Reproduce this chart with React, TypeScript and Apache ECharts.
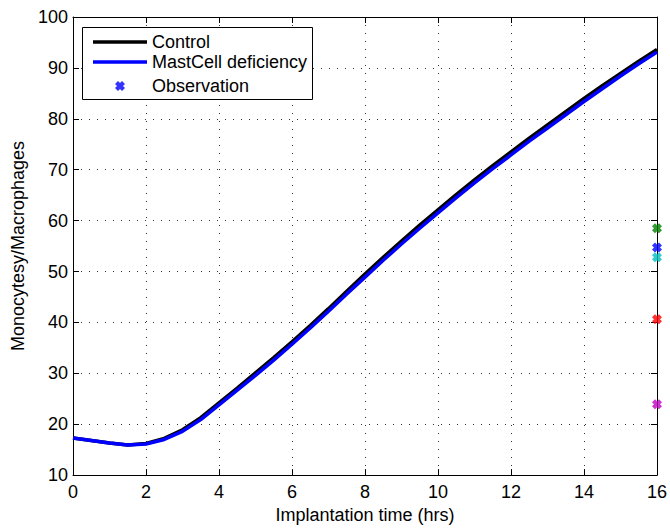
import React, { useEffect, useRef } from "react";
import * as echarts from "echarts";

const timeHrs = [0, 0.5, 1, 1.5, 2, 2.5, 3, 3.5, 4, 4.5, 5, 5.5, 6, 6.5, 7, 7.5, 8, 8.5, 9, 9.5, 10, 10.5, 11, 11.5, 12, 12.5, 13, 13.5, 14, 14.5, 15, 15.5, 16];
const controlValues = [17.3, 16.8, 16.3, 15.9, 16.2, 17.2, 18.9, 21.3, 24.2, 27.1, 30.1, 33.1, 36.2, 39.4, 42.7, 46.1, 49.5, 52.8, 56.0, 59.1, 62.1, 65.1, 68.0, 70.8, 73.5, 76.2, 78.8, 81.4, 84.0, 86.5, 88.9, 91.3, 93.6];
const mastCellValues = [17.3, 16.8, 16.3, 15.9, 16.1, 17.0, 18.6, 20.9, 23.8, 26.7, 29.6, 32.6, 35.7, 38.9, 42.2, 45.6, 48.9, 52.2, 55.4, 58.5, 61.5, 64.5, 67.4, 70.2, 72.9, 75.6, 78.2, 80.8, 83.4, 85.9, 88.4, 90.8, 93.1];
const observationTime = [16, 16, 16, 16, 16];
const observationValues = [58.5, 54.7, 52.8, 40.6, 23.9];
const observationColors = ["#008000", "#0000ff", "#00bfbf", "#ff0000", "#bf00bf"];
const seriesNames = ["Control", "MastCell deficiency", "Observation"];

const X_PATH = "path://M0,3 L3,0 L5,2 L7,0 L10,3 L8,5 L10,7 L7,10 L5,8 L3,10 L0,7 L2,5 Z";
const FONT = "Liberation Sans, Arial, sans-serif";

export default function App() {
  const ref = useRef<HTMLDivElement>(null);
  useEffect(() => {
    if (!ref.current) return;
    const chart = echarts.init(ref.current, undefined, { renderer: "svg" });
    const gridStyle = { color: "#333", width: 1, type: [1, 7] as any };
    const legendText = { fontSize: 18, fontFamily: FONT, color: "#000", lineHeight: 20 };
    const legendBase = {
      orient: "vertical",
      padding: 0,
      selectedMode: false,
      textStyle: legendText,
    };
    chart.setOption({
      animation: false,
      backgroundColor: "#fff",
      textStyle: { fontFamily: FONT },
      grid: { left: 73, right: 10, top: 17, bottom: 49 },
      xAxis: [
        {
          type: "value",
          min: 0,
          max: 16,
          interval: 2,
          name: "Implantation time (hrs)",
          nameLocation: "middle",
          nameGap: 30,
          nameTextStyle: { fontSize: 18, fontFamily: FONT, color: "#000" },
          axisLine: { lineStyle: { color: "#000", width: 1 } },
          axisTick: { inside: true, length: 6, lineStyle: { color: "#000" } },
          axisLabel: { fontSize: 18, fontFamily: FONT, color: "#000", margin: 8 },
          splitLine: { show: true, lineStyle: gridStyle },
        },
        {
          type: "value",
          position: "top",
          min: 0,
          max: 16,
          interval: 2,
          axisLine: { onZero: false, lineStyle: { color: "#000", width: 1 } },
          axisTick: { inside: true, length: 6, lineStyle: { color: "#000" } },
          axisLabel: { show: false },
          splitLine: { show: false },
        },
      ],
      yAxis: [
        {
          type: "value",
          min: 10,
          max: 100,
          interval: 10,
          name: "Monocytesy/Macrophages",
          nameLocation: "middle",
          nameGap: 43,
          nameTextStyle: { fontSize: 18, fontFamily: FONT, color: "#000" },
          axisLine: { show: true, lineStyle: { color: "#000", width: 1 } },
          axisTick: { show: true, inside: true, length: 6, lineStyle: { color: "#000" } },
          axisLabel: { fontSize: 18, fontFamily: FONT, color: "#000", margin: 5 },
          splitLine: { show: true, lineStyle: gridStyle },
        },
        {
          type: "value",
          position: "right",
          min: 10,
          max: 100,
          interval: 10,
          axisLine: { show: true, onZero: false, lineStyle: { color: "#000", width: 1 } },
          axisTick: { show: true, inside: true, length: 6, lineStyle: { color: "#000" } },
          axisLabel: { show: false },
          splitLine: { show: false },
        },
      ],
      legend: [
        {
          ...legendBase,
          left: 93,
          top: 32,
          itemWidth: 54,
          itemHeight: 3.5,
          data: [{ name: seriesNames[0], icon: "rect" }],
        },
        {
          ...legendBase,
          left: 93,
          top: 52,
          itemWidth: 54,
          itemHeight: 3.5,
          data: [{ name: seriesNames[1], icon: "rect" }],
        },
        {
          ...legendBase,
          left: 115,
          top: 76,
          itemWidth: 10,
          itemHeight: 10,
          data: [{ name: seriesNames[2], icon: X_PATH }],
          textStyle: { ...legendText, padding: [0, 0, 0, 22] },
        },
      ],
      graphic: [
        {
          type: "rect",
          left: 82,
          top: 27,
          z: 3,
          shape: { width: 230, height: 72 },
          style: { fill: "#fff", stroke: "#000", lineWidth: 1 },
        },
      ],
      series: [
        {
          name: seriesNames[0],
          type: "line",
          data: timeHrs.map((t, i) => [t, controlValues[i]]),
          symbol: "none",
          lineStyle: { color: "#000", width: 3.5 },
          itemStyle: { color: "#000" },
          z: 2,
        },
        {
          name: seriesNames[1],
          type: "line",
          data: timeHrs.map((t, i) => [t, mastCellValues[i]]),
          symbol: "none",
          lineStyle: { color: "#0000ff", width: 3.5 },
          itemStyle: { color: "#0000ff" },
          z: 3,
        },
        {
          name: seriesNames[2],
          type: "scatter",
          clip: false,
          symbol: X_PATH,
          symbolSize: 10,
          itemStyle: { color: "#0000ff" },
          data: observationTime.map((t, i) => ({
            value: [t, observationValues[i]],
            itemStyle: { color: observationColors[i] },
          })),
          z: 4,
        },
      ],
    });
    return () => chart.dispose();
  }, []);
  return (
    <div
      ref={ref}
      style={{ position: "fixed", left: 0, top: 0, width: 670, height: 529 }}
    />
  );
}
